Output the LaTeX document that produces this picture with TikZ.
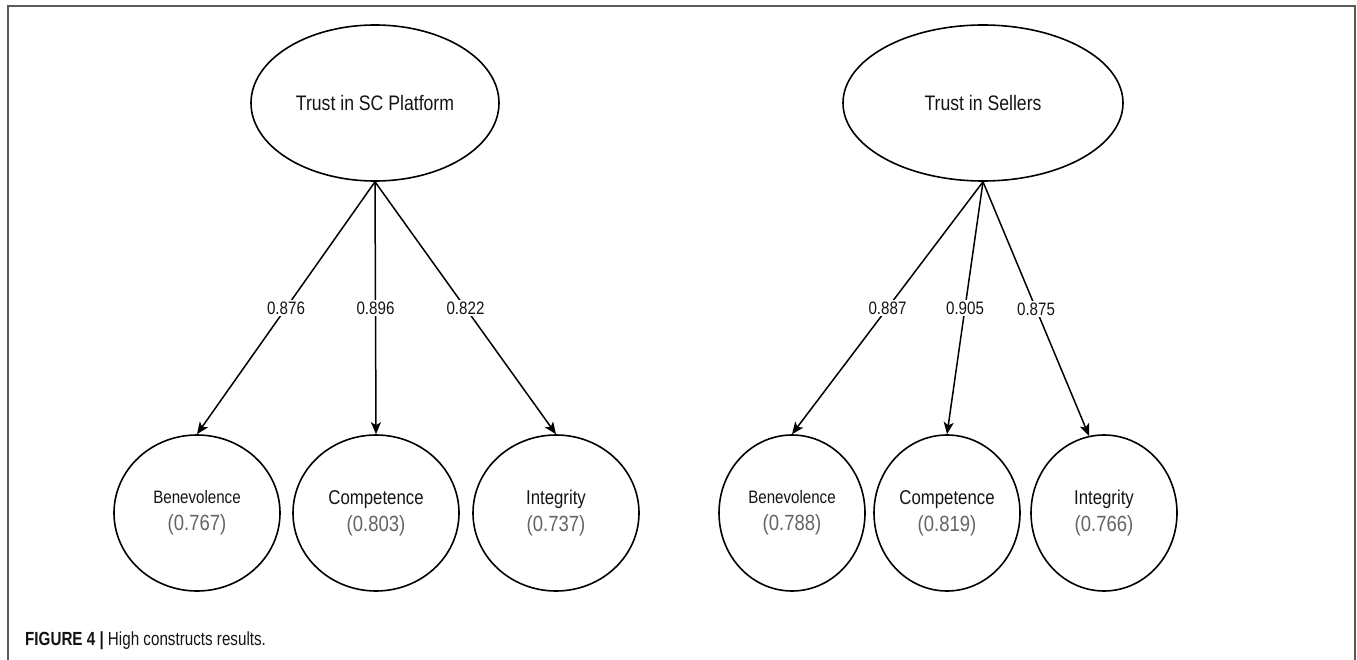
\documentclass[tikz,border=0pt]{standalone}
\usepackage{fontspec}
\setmainfont{Liberation Sans}
\newfontfamily\narrowfont[FakeStretch=0.84]{Liberation Sans}
\newfontfamily\capfont[FakeStretch=0.8]{Liberation Sans}
\usetikzlibrary{shapes.geometric,arrows.meta}
\definecolor{framegray}{RGB}{90,90,90}
\definecolor{valgray}{RGB}{100,100,100}
\definecolor{inkgray}{RGB}{20,20,20}
\newcommand\dimlabel[3]{{\fontsize{#3}{22}\selectfont #1}\\{\color{valgray}(#2)}}
\begin{document}
\begin{tikzpicture}[x=1pt,y=-1pt,
    construct/.style={draw,ellipse,line width=1.6pt,inner sep=0pt,text=inkgray,align=center},
    higher/.style={construct,minimum height=156pt,font=\narrowfont\fontsize{21}{24}\selectfont},
    lower/.style={construct,minimum height=156pt,font=\narrowfont\fontsize{22}{27}\selectfont},
    load/.style={line width=1.5pt,-{Stealth[length=12pt,width=10pt,inset=3pt]}},
    weight/.style={midway,fill=white,inner sep=1.5pt,text=inkgray,font=\narrowfont\fontsize{18}{20}\selectfont}]
    \useasboundingbox (0,0) rectangle (1357,660);
    \draw [framegray,line width=1.5pt] (8,662) -- (8,6) -- (1355,6) -- (1355,662);
    % left model
    \node [higher,minimum width=248pt] (tp) at (375,103) {Trust in SC Platform};
    \node [lower,minimum width=166pt] (pb) at (197,513) {\dimlabel{Benevolence}{0.767}{18}};
    \node [lower,minimum width=166pt] (pc) at (376,513) {\dimlabel{Competence}{0.803}{20}};
    \node [lower,minimum width=166pt] (pi) at (556,513) {\dimlabel{Integrity}{0.737}{20}};
    % right model
    \node [higher,minimum width=280pt] (ts) at (983,103) {Trust in Sellers};
    \node [lower,minimum width=146pt] (sb) at (792,513) {\dimlabel{Benevolence}{0.788}{18}};
    \node [lower,minimum width=146pt] (sc) at (947,513) {\dimlabel{Competence}{0.819}{20}};
    \node [lower,minimum width=146pt] (si) at (1104,513) {\dimlabel{Integrity}{0.766}{20}};
    \foreach \from/\to/\w in {tp/pb.north/0.876,tp/pc.north/0.896,tp/pi.north/0.822,ts/sb.north/0.887,ts/sc.north/0.905,ts/si.101/0.875}
        \draw [load] (\from.south) -- (\to) node [weight] {\w};
    \node [anchor=base west,inner sep=0pt,text=inkgray,font=\capfont\fontsize{19}{21}\selectfont] (cap) at (25,645)
        {\textbf{FIGURE 4 |} High constructs results.};
\end{tikzpicture}
\end{document}
